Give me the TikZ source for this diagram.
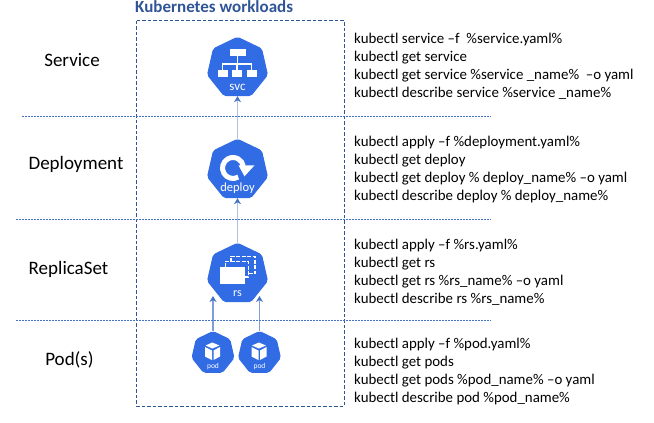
\documentclass[tikz,border=0pt]{standalone}
\usepackage{fontspec}
\setmainfont{Carlito}
\usetikzlibrary{shapes.geometric,arrows.meta}
\definecolor{kubeblue}{HTML}{326CE5}
\definecolor{boxblue}{HTML}{2F5597}
\definecolor{lineblue}{HTML}{4472C4}
\definecolor{linklight}{HTML}{A9C0E8}
\definecolor{linkmid}{HTML}{7F9DD8}
\tikzset{
	kube/.style={regular polygon, regular polygon sides=7, fill=kubeblue, draw=kubeblue, line width=1pt, rounded corners=2pt, inner sep=0pt, minimum size=#1},
	kubetext/.style={text=white, inner sep=0pt, font=\fontsize{#1}{#1}\selectfont},
	leveltext/.style={inner sep=0pt, font=\fontsize{19}{22}\selectfont},
	cmdtext/.style={inner sep=0pt, anchor=west, align=left, font=\fontsize{14.9}{18}\selectfont},
	levelline/.style={lineblue, line width=.7pt, dash pattern=on 2pt off 1pt},
	link/.style={-{Stealth[length=6pt,width=7pt,color=lineblue]}, line width=1.4pt}
}
\newcommand{\podicon}[1]{
	\begin{scope}[shift={(#1)}]
		\fill[white] (-.7,-10.5) -- (6.5,-7.5) -- (-.7,-4.5) -- (-7.5,-7.5) -- cycle;
		\fill[white] (-8,-6) -- (-1,-2.5) -- (-1,7) -- (-8,3.5) -- cycle;
		\fill[white] (.5,-2.5) -- (7,-6) -- (7,3.5) -- (.5,7) -- cycle;
	\end{scope}
}
\begin{document}
\begin{tikzpicture}[x=1pt,y=-1pt]
	\useasboundingbox (0,0) rectangle (654,423);
	\node[inner sep=0pt, anchor=west, text=boxblue, font=\fontsize{17}{20}\selectfont\bfseries] (title) at (135,7) {Kubernetes workloads};
	\coordinate (boxnw) at (136.5,20.5);
	\coordinate (boxse) at (344,406);
	\draw[boxblue, line width=.8pt, dash pattern=on 3.5pt off 2pt] (boxnw) rectangle (boxse);

	\node[kube=61.5pt] (svc) at (237.5,68) {};
	\node[kube=61.5pt, below of=svc, node distance=102pt] (deploy) {};
	\node[kube=61.5pt, below of=deploy, node distance=104pt] (rs) {};
	\node[kube=43pt, below of=rs, node distance=79pt, xshift=-24.5pt] (pod1) {};
	\node[kube=43pt, right of=pod1, node distance=46.5pt] (pod2) {};

	\node[kubetext=13, yshift=-19.5pt] (svclabel) at (svc) {svc};
	\node[kubetext=12.5, yshift=-18pt] (deploylabel) at (deploy) {deploy};
	\node[kubetext=12, yshift=-20pt] (rslabel) at (rs) {rs};
	\node[kubetext=7.5, yshift=-13.5pt] (pod1label) at (pod1) {pod};
	\node[kubetext=7.5, yshift=-13.5pt] (pod2label) at (pod2) {pod};

	% svc icon
	\begin{scope}[shift={(svc)}]
		\fill[white] (-8,-18.7) rectangle (8.5,-12);
		\fill[white] (-19.5,2) rectangle (-10,9.3);
		\fill[white] (-5.5,2) rectangle (4.5,9.3);
		\fill[white] (9,2) rectangle (19,9.3);
		\draw[white, line width=1.2pt] (0,-12) -- (0,-4);
		\draw[white, line width=1.2pt] (-15,2) -- (-15,-4) -- (14,-4) -- (14,2);
		\draw[white, line width=1.2pt] (-.5,-4) -- (-.5,2);
	\end{scope}

	% deploy icon
	\begin{scope}[shift={(deploy)}]
		\draw[white, line width=5pt] (.75,7.1) arc[start angle=-60, end angle=-350, radius=10.5pt];
		\fill[white] (1,-4.7) -- (17,-4.7) -- (7,6.3) -- cycle;
	\end{scope}

	% rs icon
	\begin{scope}[shift={(rs)}]
		\draw[white, line width=1.2pt, dash pattern=on 4pt off 1.5pt] (-6.5,-12) -- (-6.5,-17.7) -- (17.5,-17.7) -- (17.5,-.3) -- (11,-.3);
		\draw[white, line width=1.2pt, dash pattern=on 4pt off 1.5pt] (-12,-7) -- (-12,-12.7) -- (11,-12.7) -- (11,3) -- (7,3);
		\fill[white] (-18,-7) rectangle (7,9.7);
	\end{scope}

	\podicon{pod1}
	\podicon{pod2}

	% links
	\draw[link, linklight] (deploy.north) -- (svc.south);
	\draw[link, linklight] (rs.north) -- (deploy.south);
	\coordinate (rsin1) at ([yshift=-22pt] rs.center -| pod1);
	\coordinate (rsin2) at ([yshift=-22pt] rs.center -| pod2);
	\draw[link, linkmid] (pod1.north) -- (rsin1);
	\draw[link, linkmid] (pod2.north) -- (rsin2);

	% level lines
	\coordinate (line1w) at (22,116.5);
	\coordinate (line1e) at (491,116.5);
	\coordinate (line2w) at (16,219.5);
	\coordinate (line2e) at (491,219.5);
	\coordinate (line3w) at (16,320.5);
	\coordinate (line3e) at (491,320.5);
	\draw[levelline] (line1w) -- (line1e);
	\draw[levelline] (line2w) -- (line2e);
	\draw[levelline] (line3w) -- (line3e);

	\node[leveltext] (service) at (72,60.5) {Service};
	\node[leveltext] (deployment) at (76,164) {Deployment};
	\node[leveltext] (replicaset) at (68.5,269) {ReplicaSet};
	\node[leveltext] (pods) at (69.5,360) {Pod(s)};

	\node[cmdtext] (svccmd) at (354,66.5) {kubectl service –f~ \%service.yaml\%\\kubectl get service\\kubectl get service \%service \_name\%~ –o yaml\\kubectl describe service \%service \_name\%};
	\node[cmdtext] (deploycmd) at (354,170) {kubectl apply –f \%deployment.yaml\%\\kubectl get deploy\\kubectl get deploy \% deploy\_name\% –o yaml\\kubectl describe deploy \% deploy\_name\%};
	\node[cmdtext] (rscmd) at (354,272) {kubectl apply –f \%rs.yaml\%\\kubectl get rs\\kubectl get rs \%rs\_name\% –o yaml\\kubectl describe rs \%rs\_name\%};
	\node[cmdtext] (podcmd) at (354,372) {kubectl apply –f \%pod.yaml\%\\kubectl get pods\\kubectl get pods \%pod\_name\% –o yaml\\kubectl describe pod \%pod\_name\%};
\end{tikzpicture}
\end{document}
